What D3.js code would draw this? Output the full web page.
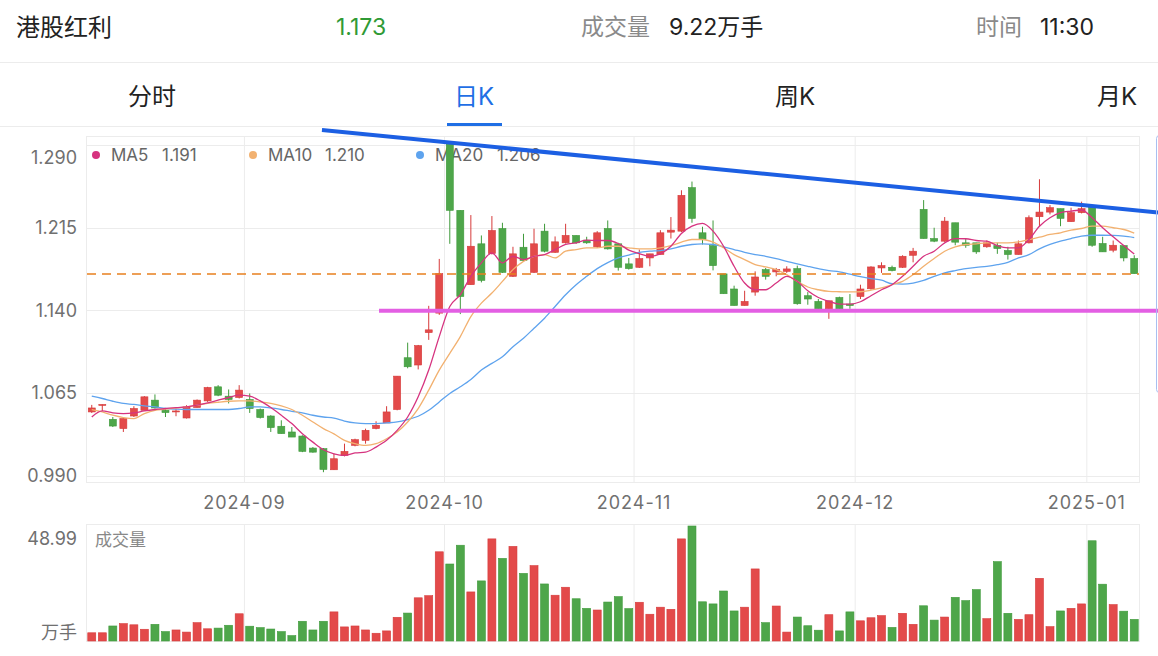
<!DOCTYPE html>
<head>
  <meta charset="utf-8">
  <script src="https://cdn.jsdelivr.net/npm/d3@7"></script>
  <style>
    body { margin:0; background:#fff; }
    svg { display:block; font-family: Inter, "Noto Sans CJK SC", sans-serif; }
  </style>
</head>

<body>
  <script>
    // ---- data (mainland trading days, 2024-08-12 .. 2025-01-08) ----
    let open = [
      1.0477, 1.0536, 1.0410, 1.0326, 1.0440, 1.0492, 1.0584, 1.0492, 1.0477, 1.0422,
      1.0517, 1.0577, 1.0705, 1.0620, 1.0608, 1.0590, 1.0499, 1.0440, 1.0347, 1.0295,
      1.0258, 1.0149, 1.0144, 0.9952, 1.0082, 1.0174, 1.0219, 1.0326, 1.0377, 1.0499,
      1.0969, 1.0903, 1.1197, 1.1374, 1.2908, 1.2307, 1.1632, 1.2003, 1.1915, 1.2142,
      1.1708, 1.1972, 1.1744, 1.2118, 1.1926, 1.2012, 1.2079, 1.2036, 1.1976, 1.2142,
      1.2003, 1.1821, 1.1790, 1.1875, 1.1906, 1.2109, 1.2118, 1.2513, 1.2103, 1.1987,
      1.1730, 1.1593, 1.1443, 1.1565, 1.1769, 1.1748, 1.1753, 1.1778, 1.1532, 1.1480,
      1.1413, 1.1516, 1.1456, 1.1525, 1.1595, 1.1784, 1.1790, 1.1790, 1.1899, 1.2316,
      1.2051, 1.2027, 1.2194, 1.2012, 1.2012, 1.1976, 1.1987, 1.1942, 1.1906, 1.2012,
      1.2249, 1.2291, 1.2322, 1.2204, 1.2286, 1.2337, 1.2006, 1.1945, 1.1987, 1.1869];

    let close = [
      1.0513, 1.0545, 1.0349, 1.0417, 1.0508, 1.0614, 1.0513, 1.0471, 1.0486, 1.0523,
      1.0584, 1.0699, 1.0629, 1.0590, 1.0675, 1.0508, 1.0426, 1.0335, 1.0280, 1.0249,
      1.0119, 1.0112, 0.9955, 1.0052, 1.0119, 1.0225, 1.0310, 1.0356, 1.0477, 1.0802,
      1.0887, 1.1079, 1.1222, 1.1732, 1.2307, 1.1525, 1.1981, 1.1671, 1.2124, 1.1744,
      1.1912, 1.1851, 1.2003, 1.1936, 1.2021, 1.2079, 1.2012, 1.2012, 1.2103, 1.1957,
      1.1790, 1.1778, 1.1869, 1.1912, 1.2103, 1.2127, 1.2443, 1.2234, 1.2042, 1.1805,
      1.1550, 1.1443, 1.1480, 1.1702, 1.1708, 1.1769, 1.1775, 1.1459, 1.1502, 1.1413,
      1.1486, 1.1413, 1.1443, 1.1593, 1.1793, 1.1805, 1.1760, 1.1890, 1.1936, 1.2051,
      1.2027, 1.2209, 1.2018, 1.1990, 1.1930, 1.2012, 1.1960, 1.1906, 1.2003, 1.2240,
      1.2291, 1.2331, 1.2234, 1.2286, 1.2322, 1.1990, 1.1930, 1.1990, 1.1875, 1.1732];

    let high = [
      1.0541, 1.0545, 1.0431, 1.0431, 1.0529, 1.0620, 1.0636, 1.0508, 1.0508, 1.0538,
      1.0590, 1.0705, 1.0720, 1.0681, 1.0720, 1.0645, 1.0508, 1.0447, 1.0401, 1.0340,
      1.0265, 1.0158, 1.0149, 1.0098, 1.0189, 1.0234, 1.0325, 1.0392, 1.0529, 1.0802,
      1.1106, 1.1085, 1.1440, 1.1866, 1.2908, 1.2307, 1.2264, 1.2079, 1.2255, 1.2194,
      1.1976, 1.2094, 1.2140, 1.2185, 1.2070, 1.2185, 1.2079, 1.2067, 1.2118, 1.2215,
      1.2012, 1.1875, 1.1951, 1.1912, 1.2127, 1.2246, 1.2489, 1.2568, 1.2158, 1.2215,
      1.1730, 1.1623, 1.1577, 1.1753, 1.1784, 1.1784, 1.1799, 1.1805, 1.1565, 1.1502,
      1.1486, 1.1523, 1.1547, 1.1632, 1.1799, 1.1835, 1.1805, 1.1899, 1.1966, 1.2400,
      1.2149, 1.2246, 1.2194, 1.2051, 1.2012, 1.2033, 1.2012, 1.1976, 1.2033, 1.2261,
      1.2589, 1.2355, 1.2322, 1.2331, 1.2386, 1.2337, 1.2067, 1.2033, 1.1987, 1.1899];

    let low = [
      1.0468, 1.0486, 1.0340, 1.0295, 1.0431, 1.0492, 1.0508, 1.0431, 1.0438, 1.0417,
      1.0517, 1.0568, 1.0620, 1.0554, 1.0599, 1.0468, 1.0417, 1.0295, 1.0280, 1.0249,
      1.0112, 1.0107, 0.9930, 0.9952, 1.0073, 1.0165, 1.0189, 1.0319, 1.0377, 1.0492,
      1.0873, 1.0863, 1.1131, 1.1358, 1.2003, 1.1365, 1.1632, 1.1653, 1.1906, 1.1739,
      1.1702, 1.1844, 1.1739, 1.1926, 1.1921, 1.2006, 1.2003, 1.2003, 1.1966, 1.1951,
      1.1760, 1.1769, 1.1784, 1.1799, 1.1906, 1.2051, 1.2109, 1.2194, 1.1997, 1.1762,
      1.1550, 1.1443, 1.1443, 1.1532, 1.1678, 1.1708, 1.1739, 1.1450, 1.1450, 1.1413,
      1.1322, 1.1413, 1.1413, 1.1502, 1.1586, 1.1739, 1.1753, 1.1784, 1.1835, 1.2051,
      1.2018, 1.2021, 1.1990, 1.1967, 1.1912, 1.1967, 1.1912, 1.1860, 1.1906, 1.2006,
      1.2163, 1.2270, 1.2163, 1.2204, 1.2279, 1.1976, 1.1930, 1.1926, 1.1844, 1.1732];

    // 成交量, 万手
    let vol = [
      3.5, 3.5, 6.4, 7.4, 6.9, 5.0, 7.1, 4.0, 4.7, 3.8,
      7.8, 5.2, 5.5, 6.7, 11.6, 6.3, 5.7, 5.1, 4.0, 2.3,
      8.4, 4.7, 8.4, 12.4, 6.0, 6.4, 4.7, 3.3, 4.3, 10.1,
      11.9, 18.4, 19.3, 38.0, 32.8, 40.8, 20.9, 25.6, 43.5, 35.2,
      40.3, 28.8, 32.1, 24.3, 19.5, 22.9, 18.0, 13.9, 13.2, 16.6,
      18.9, 13.8, 16.5, 11.4, 14.4, 13.5, 43.5, 48.99, 16.7, 15.8,
      21.3, 12.8, 14.4, 30.7, 7.8, 14.9, 3.8, 10.2, 6.5, 4.6,
      11.2, 4.3, 12.4, 8.6, 9.9, 10.8, 5.8, 11.8, 7.1, 15.0,
      8.9, 10.2, 18.6, 17.2, 21.9, 9.5, 33.8, 11.8, 9.2, 11.2,
      26.7, 6.1, 12.8, 13.9, 15.8, 42.7, 24.2, 15.5, 12.7, 9.22];

    let ma5 = [
      1.0431, 1.0486, 1.0468, 1.0462, 1.0468, 1.0486, 1.0499, 1.0508, 1.0517, 1.0523,
      1.0538, 1.0559, 1.0584, 1.0608, 1.0629, 1.0620, 1.0577, 1.0517, 1.0447, 1.0371,
      1.0280, 1.0203, 1.0134, 1.0097, 1.0082, 1.0105, 1.0112, 1.0158, 1.0219, 1.0310,
      1.0431, 1.0614, 1.0857, 1.1161, 1.1434, 1.1541, 1.1708, 1.1830, 1.1921, 1.1830,
      1.1890, 1.1860, 1.1890, 1.1905, 1.1951, 1.1997, 1.2012, 1.2036, 1.2033, 1.2033,
      1.2006, 1.1946, 1.1915, 1.1890, 1.1912, 1.1981, 1.2097, 1.2163, 1.2188, 1.2118,
      1.1981, 1.1799, 1.1647, 1.1586, 1.1586, 1.1647, 1.1708, 1.1662, 1.1577, 1.1516,
      1.1480, 1.1456, 1.1456, 1.1477, 1.1532, 1.1586, 1.1632, 1.1708, 1.1799, 1.1890,
      1.1936, 1.2012, 1.2051, 1.2049, 1.2033, 1.2027, 1.1987, 1.1967, 1.1967, 1.2042,
      1.2163, 1.2240, 1.2286, 1.2300, 1.2310, 1.2240, 1.2149, 1.2067, 1.1987, 1.1910];

    let ma10 = [
      1.0499, 1.0477, 1.0447, 1.0426, 1.0417, 1.0462, 1.0492, 1.0502, 1.0513, 1.0523,
      1.0538, 1.0554, 1.0565, 1.0574, 1.0577, 1.0577, 1.0568, 1.0554, 1.0532, 1.0499,
      1.0447, 1.0386, 1.0326, 1.0278, 1.0219, 1.0189, 1.0173, 1.0189, 1.0234, 1.0295,
      1.0386, 1.0508, 1.0675, 1.0857, 1.1009, 1.1161, 1.1343, 1.1465, 1.1556, 1.1662,
      1.1769, 1.1844, 1.1890, 1.1905, 1.1875, 1.1936, 1.1951, 1.1967, 1.1967, 1.1981,
      1.1981, 1.1967, 1.1957, 1.1957, 1.1967, 1.1987, 1.2018, 1.2042, 1.2042, 1.2018,
      1.1967, 1.1905, 1.1860, 1.1814, 1.1793, 1.1769, 1.1723, 1.1662, 1.1611, 1.1586,
      1.1571, 1.1568, 1.1566, 1.1568, 1.1582, 1.1602, 1.1632, 1.1662, 1.1723, 1.1799,
      1.1869, 1.1936, 1.1976, 1.1997, 1.2003, 1.2012, 1.2012, 1.2012, 1.2021, 1.2042,
      1.2063, 1.2088, 1.2103, 1.2127, 1.2142, 1.2163, 1.2163, 1.2149, 1.2133, 1.2100];

    let ma20 = [
      1.0620, 1.0599, 1.0574, 1.0554, 1.0545, 1.0532, 1.0523, 1.0508, 1.0502, 1.0499,
      1.0499, 1.0499, 1.0499, 1.0499, 1.0508, 1.0523, 1.0523, 1.0513, 1.0499, 1.0483,
      1.0468, 1.0447, 1.0431, 1.0420, 1.0394, 1.0377, 1.0371, 1.0371, 1.0377, 1.0386,
      1.0408, 1.0438, 1.0492, 1.0568, 1.0645, 1.0705, 1.0772, 1.0857, 1.0918, 1.0978,
      1.1069, 1.1146, 1.1237, 1.1328, 1.1434, 1.1541, 1.1632, 1.1708, 1.1778, 1.1833,
      1.1875, 1.1901, 1.1926, 1.1936, 1.1942, 1.1957, 1.1981, 1.1997, 1.2003, 1.1997,
      1.1976, 1.1951, 1.1926, 1.1905, 1.1890, 1.1869, 1.1844, 1.1821, 1.1799, 1.1778,
      1.1760, 1.1749, 1.1727, 1.1705, 1.1687, 1.1673, 1.1641, 1.1638, 1.1647, 1.1671,
      1.1708, 1.1739, 1.1760, 1.1778, 1.1790, 1.1799, 1.1814, 1.1835, 1.1875, 1.1905,
      1.1957, 1.1997, 1.2027, 1.2051, 1.2072, 1.2081, 1.2081, 1.2079, 1.2072, 1.2060];

    let priceTicks = [0.990, 1.065, 1.140, 1.215, 1.290];
    let monthIdx = [15, 34, 52, 73, 95];
    let monthLabels = ["2024-09", "2024-10", "2024-11", "2024-12", "2025-01"];
    let maNames = ["MA5", "MA10", "MA20"];
    let maLast = ["1.191", "1.210", "1.206"];
    let lastPrice = 1.173;
    // hand-drawn annotations, in (candle index, price) terms
    let resistLine = [[21.86, 1.3036], [101.26, 1.2287]];
    let supportLine = [[27.28, 1.1395], [101.26, 1.1395]];

    let width = 1158, height = 656;
    let red = "#e34a4a", redLine = "#d63a3a", green = "#4ea64a", greenLine = "#3f9a3b";
    let maColors = ["#d6337f", "#f2b170", "#5ea3ee"];

    let svg = d3.select("body").append("svg")
      .attr("width", width).attr("height", height);

    let n = close.length;
    let x = d3.scaleLinear().domain([-0.5, n - 0.5]).range([86.5, 1139.5]);
    let y = d3.scaleLinear().domain([0.990, 1.290]).range([475.5, 145]);
    let yv = d3.scaleLinear().domain([0, d3.max(vol)]).range([641, 526]);
    let slot = x(1) - x(0);

    // ---- header ----
    let head = svg.append("g").attr("dominant-baseline", "central");
    head.append("text").attr("x", 16).attr("y", 27).attr("font-size", 24).attr("fill", "#222").text("港股红利");
    head.append("text").attr("x", 336).attr("y", 27).attr("font-size", 23).attr("fill", "#2f9a35").text(close[n - 1].toFixed(3));
    head.append("text").attr("x", 581).attr("y", 27).attr("font-size", 23).attr("fill", "#8a8a8a").text("成交量");
    head.append("text").attr("x", 669).attr("y", 27).attr("font-size", 23).attr("fill", "#222").text(vol[n - 1].toFixed(2) + "万手");
    head.append("text").attr("x", 976).attr("y", 27).attr("font-size", 23).attr("fill", "#8a8a8a").text("时间");
    head.append("text").attr("x", 1040).attr("y", 27).attr("font-size", 23).attr("fill", "#222").text("11:30");
    svg.append("line").attr("x1", 0).attr("x2", width).attr("y1", 62.5).attr("y2", 62.5).attr("stroke", "#ececec");

    let tabs = ["分时", "日K", "周K", "月K"], tabX = [152, 474, 795, 1117];
    head.selectAll(".tab").data(tabs).enter().append("text")
      .attr("x", (d, i) => tabX[i]).attr("y", 96).attr("text-anchor", "middle")
      .attr("font-size", 24).attr("fill", (d, i) => i == 1 ? "#1f6fe5" : "#222")
      .text(d => d);
    svg.append("rect").attr("x", 447).attr("y", 123).attr("width", 55).attr("height", 3).attr("fill", "#1f6fe5");
    svg.append("line").attr("x1", 0).attr("x2", width).attr("y1", 126.5).attr("y2", 126.5).attr("stroke", "#ececec");

    // ---- price panel frame + grid ----
    let grid = svg.append("g").attr("stroke", "#ececec").attr("fill", "none");
    grid.append("rect").attr("x", 86.5).attr("y", 136.5).attr("width", 1053).attr("height", 346);
    grid.selectAll(".hg").data(priceTicks).enter().append("line")
      .attr("x1", 86.5).attr("x2", 1139.5)
      .attr("y1", d => Math.round(y(d)) + 0.5).attr("y2", d => Math.round(y(d)) + 0.5);
    grid.selectAll(".vg").data(monthIdx).enter().append("line")
      .attr("x1", d => x(d - 0.5)).attr("x2", d => x(d - 0.5))
      .attr("y1", 136.5).attr("y2", 482.5);

    svg.selectAll(".ylab").data(priceTicks).enter().append("text")
      .attr("x", 77).attr("y", d => Math.max(y(d), 157))
      .attr("text-anchor", "end").attr("dominant-baseline", "central")
      .attr("font-size", 18).attr("fill", "#707070")
      .text(d => d.toFixed(3));

    svg.selectAll(".xlab").data(monthIdx).enter().append("text")
      .attr("x", d => x(d - 0.5)).attr("y", 502)
      .attr("text-anchor", "middle").attr("dominant-baseline", "central")
      .attr("font-size", 18).attr("fill", "#707070").attr("letter-spacing", 1)
      .text((d, i) => monthLabels[i]);

    // ---- legend ----
    let legX = [96, 253, 420], legValX = [162, 325, 497];
    let leg = svg.append("g");
    leg.selectAll("circle").data(maNames).enter().append("circle")
      .attr("cx", (d, i) => legX[i]).attr("cy", 155).attr("r", 4)
      .attr("fill", (d, i) => maColors[i]);
    leg.selectAll(".ln").data(maNames).enter().append("text")
      .attr("x", (d, i) => legX[i] + 15).attr("y", 155).attr("dominant-baseline", "central")
      .attr("font-size", 17).attr("fill", "#666").text(d => d);
    leg.selectAll(".lv").data(maLast).enter().append("text")
      .attr("x", (d, i) => legValX[i]).attr("y", 155).attr("dominant-baseline", "central")
      .attr("font-size", 17).attr("fill", "#666").text(d => d);

    // ---- candles ----
    let bodyW = 7;
    let candles = svg.append("g").selectAll("g").data(d3.range(n)).enter().append("g");
    candles.append("line")
      .attr("x1", i => x(i)).attr("x2", i => x(i))
      .attr("y1", i => y(high[i])).attr("y2", i => y(low[i]))
      .attr("stroke", i => close[i] >= open[i] ? redLine : greenLine).attr("stroke-width", 1);
    candles.append("rect")
      .attr("x", i => x(i) - bodyW / 2)
      .attr("y", i => y(Math.max(open[i], close[i])))
      .attr("width", bodyW)
      .attr("height", i => Math.max(1, y(Math.min(open[i], close[i])) - y(Math.max(open[i], close[i]))))
      .attr("fill", i => close[i] >= open[i] ? red : green)
      .attr("stroke", i => close[i] >= open[i] ? redLine : greenLine).attr("stroke-width", 0.6);

    // ---- moving averages ----
    let line = d3.line().x((d, i) => x(i)).y(d => y(d)).curve(d3.curveMonotoneX);
    [ma20, ma10, ma5].forEach((s, k) => {
      svg.append("path").attr("d", line(s)).attr("fill", "none")
        .attr("stroke", maColors[2 - k]).attr("stroke-width", 1.3);
    });

    // ---- last price dashed line ----
    svg.append("line").attr("x1", 87).attr("x2", 1139)
      .attr("y1", y(lastPrice)).attr("y2", y(lastPrice))
      .attr("stroke", "#e8801f").attr("stroke-width", 1.5).attr("stroke-dasharray", "9,6");

    // ---- drawn trend lines ----
    let seg = d3.line().x(d => x(d[0])).y(d => y(d[1]));
    svg.append("path").attr("d", seg(resistLine)).attr("stroke", "#1c5fe3").attr("stroke-width", 4).attr("fill", "none");
    svg.append("path").attr("d", seg(supportLine)).attr("stroke", "#e35fe3").attr("stroke-width", 4).attr("fill", "none");

    // right side panel edge
    svg.append("rect").attr("x", 1156.5).attr("y", 135.5).attr("width", 20).attr("height", 257).attr("rx", 3)
      .attr("fill", "none").attr("stroke", "#a9bff0");

    // ---- volume panel ----
    let vg = svg.append("g").attr("stroke", "#ececec").attr("fill", "none");
    vg.append("rect").attr("x", 86.5).attr("y", 524.5).attr("width", 1053).attr("height", 117);
    vg.selectAll(".vv").data(monthIdx).enter().append("line")
      .attr("x1", d => x(d - 0.5)).attr("x2", d => x(d - 0.5))
      .attr("y1", 524.5).attr("y2", 641.5);

    svg.append("g").selectAll("rect").data(d3.range(n)).enter().append("rect")
      .attr("x", i => x(i) - 4).attr("width", 8)
      .attr("y", i => yv(vol[i])).attr("height", i => yv(0) - yv(vol[i]))
      .attr("fill", i => close[i] >= open[i] ? red : green)
      .attr("stroke", i => close[i] >= open[i] ? redLine : greenLine).attr("stroke-width", 0.6);

    svg.append("text").attr("x", 95).attr("y", 540).attr("dominant-baseline", "central")
      .attr("font-size", 17).attr("fill", "#888").text("成交量");
    svg.append("text").attr("x", 77).attr("y", 538).attr("text-anchor", "end").attr("dominant-baseline", "central")
      .attr("font-size", 18).attr("fill", "#707070").text(d3.max(vol).toFixed(2));
    svg.append("text").attr("x", 77).attr("y", 632).attr("text-anchor", "end").attr("dominant-baseline", "central")
      .attr("font-size", 18).attr("fill", "#707070").text("万手");
  </script>
</body>
